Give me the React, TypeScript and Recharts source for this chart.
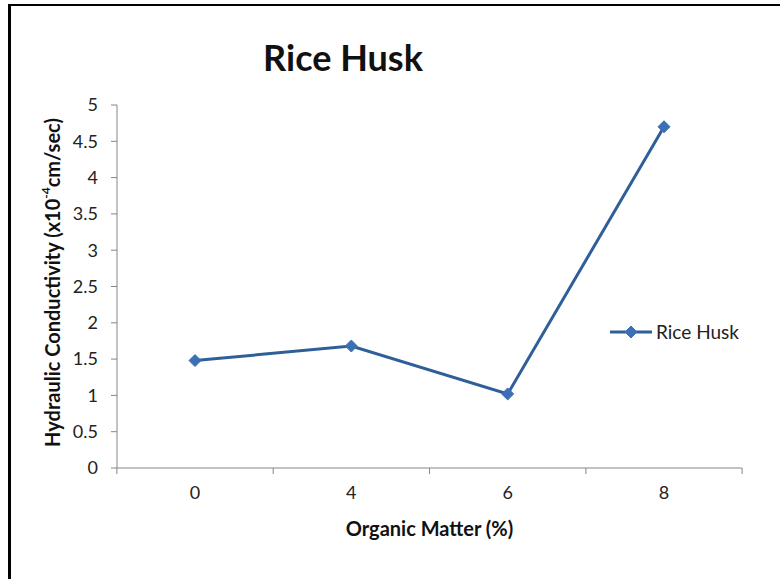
import { LineChart, Line, XAxis, YAxis, Legend } from 'recharts';

// organic matter content (%) on the category axis
const organicMatter = ['0', '4', '6', '8'];
// hydraulic conductivity, x10^-4 cm/sec
const riceHusk = [1.48, 1.68, 1.02, 4.7];
const yTicks = [0, 0.5, 1, 1.5, 2, 2.5, 3, 3.5, 4, 4.5, 5];

const data = organicMatter.map((om, i) => ({ om, riceHusk: riceHusk[i] }));

const FONT = 'Lato, "Open Sans", sans-serif';
const LINE = '#2f5f98';
const MARKER = '#3d6fb4';
const AXIS = '#868686';

function Diamond({ cx, cy }: { cx?: number; cy?: number }) {
  if (cx == null || cy == null) return null;
  const r = 6;
  return (
    <polygon
      points={`${cx},${cy - r} ${cx + r},${cy} ${cx},${cy + r} ${cx - r},${cy}`}
      fill={MARKER}
      stroke={MARKER}
    />
  );
}

// Excel style: labels sit in the middle of each category, tick marks on the edges
function CategoryTick(props: any) {
  const { x, y, payload, index, width, visibleTicksCount } = props;
  const half = width / visibleTicksCount / 2;
  return (
    <g>
      <line x1={x - half} y1={y - 6} x2={x - half} y2={y} stroke={AXIS} />
      {index === visibleTicksCount - 1 && (
        <line x1={x + half} y1={y - 6} x2={x + half} y2={y} stroke={AXIS} />
      )}
      <text x={x} y={y} dy={25} textAnchor="middle" fill="#222" fontSize={18} fontFamily={FONT}>
        {payload.value}
      </text>
    </g>
  );
}

function YTitle(props: any) {
  const vb = props.viewBox ?? {};
  const cx = 52;
  const cy = (vb.y ?? 105) + (vb.height ?? 363) / 2 - 4;
  return (
    <text
      x={cx}
      y={cy}
      transform={`rotate(-90 ${cx} ${cy})`}
      textAnchor="middle"
      dominantBaseline="central"
      fontSize={20}
      fontWeight="bold"
      fontFamily={FONT}
      fill="#111"
    >
      Hydraulic Conductivity (x10
      <tspan dy={-7} fontSize={12}>
        -4
      </tspan>
      <tspan dy={7}>cm/sec)</tspan>
    </text>
  );
}

function LegendContent() {
  return (
    <div style={{ display: 'flex', alignItems: 'center', fontFamily: FONT, fontSize: 19, color: '#222' }}>
      <svg width={46} height={14}>
        <line x1={2} y1={7} x2={44} y2={7} stroke={LINE} strokeWidth={3} />
        <Diamond cx={23} cy={7} />
      </svg>
      <span style={{ marginLeft: 2 }}>Rice Husk</span>
    </div>
  );
}

export default function App() {
  return (
    <div style={{ position: 'fixed', left: 0, top: 0, width: 780, height: 579, background: '#fff' }}>
      <div
        style={{
          position: 'absolute',
          left: 8,
          top: 4,
          right: 0,
          bottom: 0,
          borderTop: '2px solid #000',
          borderLeft: '3px solid #000',
        }}
      />
      <div
        style={{
          position: 'absolute',
          left: 193,
          width: 300,
          top: 38,
          lineHeight: '38px',
          textAlign: 'center',
          fontFamily: FONT,
          fontWeight: 'bold',
          fontSize: 36,
          color: '#111',
        }}
      >
        Rice Husk
      </div>
      <LineChart width={780} height={579} data={data} margin={{ top: 105, right: 38, bottom: 0, left: 0 }}>
        <XAxis
          dataKey="om"
          height={111}
          padding={{ left: 78, right: 78 }}
          axisLine={{ stroke: AXIS }}
          tickLine={false}
          tickSize={6}
          tickMargin={0}
          tick={<CategoryTick />}
          interval={0}
          label={{
            value: 'Organic Matter (%)',
            position: 'insideTop',
            offset: 54,
            fill: '#111',
            fontSize: 20,
            fontWeight: 'bold',
            fontFamily: FONT,
          }}
        />
        <YAxis
          width={117}
          domain={[0, 5]}
          ticks={yTicks}
          interval={0}
          axisLine={{ stroke: AXIS }}
          tickLine={{ stroke: AXIS }}
          tickSize={6}
          tickMargin={13}
          tick={{ fill: '#222', fontSize: 18, fontFamily: FONT }}
          label={<YTitle />}
        />
        <Legend
          align="center"
          verticalAlign="middle"
          content={<LegendContent />}
          wrapperStyle={{ position: 'absolute', left: 608, top: 320, width: 'auto' }}
        />
        <Line
          dataKey="riceHusk"
          name="Rice Husk"
          stroke={LINE}
          strokeWidth={3}
          dot={<Diamond />}
          activeDot={false}
          isAnimationActive={false}
        />
      </LineChart>
    </div>
  );
}
